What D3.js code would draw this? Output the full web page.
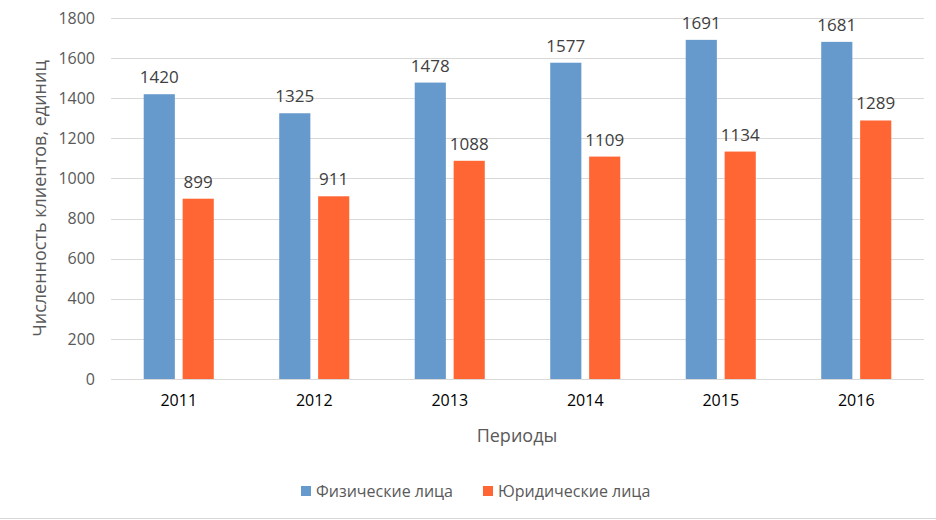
<!DOCTYPE html>
<html>
<head>
<meta charset="utf-8">
<script src="https://cdn.jsdelivr.net/npm/d3@7"></script>
<style>
  body { margin: 0; background: #fff; }
  text { font-family: "Open Sans", "Liberation Sans", sans-serif; }
</style>
</head>
<body>
<div id="chart"></div>
<script>
// data
var years = ["2011", "2012", "2013", "2014", "2015", "2016"];
var physical = [1420, 1325, 1478, 1577, 1691, 1681];
var legal = [899, 911, 1088, 1109, 1134, 1289];
var seriesNames = ["Физические лица", "Юридические лица"];
var yTicks = [0, 200, 400, 600, 800, 1000, 1200, 1400, 1600, 1800];

var svgwidth = 936, svgheight = 520;
var margin = {top: 18, right: 12, bottom: 141, left: 111};
var width = svgwidth - margin.left - margin.right;
var height = svgheight - margin.top - margin.bottom;
var colors = ["#6699cc", "#ff6633"];

var svg = d3.select("#chart").append("svg")
    .attr("width", svgwidth)
    .attr("height", svgheight);

var g = svg.append("g")
    .attr("transform", "translate(" + margin.left + "," + margin.top + ")");

var x0 = d3.scaleBand().domain(years).range([0, width]).paddingInner(0.483).paddingOuter(0.2415);
var x1 = d3.scaleBand().domain([0, 1]).range([0, x0.bandwidth()]).paddingInner(0.2);
var y = d3.scaleLinear().domain([0, 1800]).range([height, 0]);

// gridlines
g.selectAll(".grid").data(yTicks).enter().append("line")
    .attr("x1", 0).attr("x2", width)
    .attr("y1", function(d) { return Math.round(y(d)) + 0.5; })
    .attr("y2", function(d) { return Math.round(y(d)) + 0.5; })
    .attr("stroke", "#d9d9d9").attr("stroke-width", 1);

// y axis labels
var yAxis = d3.axisLeft(y).tickValues(yTicks).tickFormat(d3.format("d")).tickSize(0).tickPadding(16);
var yAxisg = g.append("g").call(yAxis);
yAxisg.select(".domain").remove();
yAxisg.selectAll("text").attr("font-size", 16).attr("fill", "#595959")
    .style("font-family", "'Open Sans', sans-serif");

// x axis labels
var xAxis = d3.axisBottom(x0).tickSize(0).tickPadding(16);
var xAxisg = g.append("g").attr("transform", "translate(0," + height + ")").call(xAxis);
xAxisg.select(".domain").remove();
xAxisg.selectAll("text").attr("font-size", 16).attr("fill", "#000")
    .style("font-family", "'Open Sans', sans-serif");

var rows = years.map(function(yr, i) { return {year: yr, values: [physical[i], legal[i]]}; });

var groups = g.selectAll(".grp").data(rows).enter().append("g")
    .attr("transform", function(d) { return "translate(" + x0(d.year) + ",0)"; });

groups.selectAll("rect").data(function(d) { return d.values; }).enter().append("rect")
    .attr("x", function(d, i) { return x1(i); })
    .attr("y", function(d) { return y(d); })
    .attr("width", x1.bandwidth())
    .attr("height", function(d) { return height - y(d); })
    .attr("fill", function(d, i) { return colors[i]; });

groups.selectAll(".val").data(function(d) { return d.values; }).enter().append("text")
    .attr("x", function(d, i) { return x1(i) + x1.bandwidth() / 2; })
    .attr("y", function(d) { return y(d) - 11; })
    .attr("text-anchor", "middle")
    .attr("font-size", 17)
    .attr("fill", "#404040")
    .text(function(d) { return d; });

// axis titles
svg.append("text")
    .attr("transform", "translate(46," + (margin.top + height / 2) + ") rotate(-90)")
    .attr("text-anchor", "middle")
    .attr("font-size", 18)
    .attr("fill", "#595959")
    .text("Численность клиентов, единиц");

svg.append("text")
    .attr("x", 517).attr("y", 442)
    .attr("text-anchor", "middle")
    .attr("font-size", 18)
    .attr("fill", "#595959")
    .text("Периоды");

// legend
var legendX = [301, 483];
var leg = svg.selectAll(".leg").data(seriesNames).enter().append("g")
    .attr("transform", function(d, i) { return "translate(" + legendX[i] + ",486)"; });
leg.append("rect").attr("width", 10).attr("height", 10)
    .attr("fill", function(d, i) { return colors[i]; });
leg.append("text").attr("x", 15).attr("y", 10.5)
    .attr("font-size", 16).attr("fill", "#595959")
    .text(function(d) { return d; });

// bottom border
svg.append("line").attr("x1", 0).attr("x2", svgwidth).attr("y1", 518.5).attr("y2", 518.5)
    .attr("stroke", "#d9d9d9");
</script>
</body>
</html>
